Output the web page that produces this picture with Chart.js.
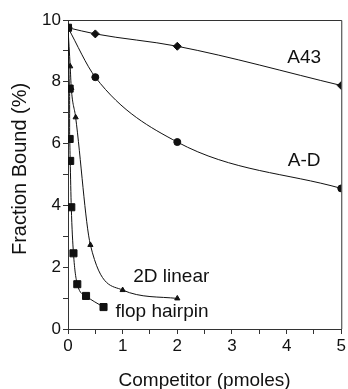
<!DOCTYPE html>
<html>
<head>
<meta charset="utf-8">
<script src="https://cdn.jsdelivr.net/npm/chart.js@4"></script>
<style>
  html, body { margin: 0; padding: 0; background: #fff; }
  #wrap { width: 348px; height: 389px; }
</style>
</head>
<body>
<div id="wrap"><canvas id="bindChart"></canvas></div>
<script>
// values (x = competitor pmoles, y = fraction bound %)
const a43X = [0, 0.5, 2, 5];
const a43Y = [9.75, 9.55, 9.15, 7.88];

const adX = [0, 0.5, 2, 5];
const adY = [9.75, 8.15, 6.05, 4.55];

const linearX = [0, 0.04, 0.06, 0.14, 0.41, 1.0, 2.0];
const linearY = [9.75, 8.5, 7.8, 6.85, 2.72, 1.26, 0.99];

const hairpinX = [0, 0.03, 0.03, 0.04, 0.06, 0.1, 0.17, 0.33, 0.65];
const hairpinY = [9.75, 7.78, 6.15, 5.44, 3.94, 2.45, 1.45, 1.07, 0.71];

const seriesLabels = ['A43', 'A-D', '2D linear', 'flop hairpin'];
// where each curve's name sits, in data units
const labelX = [4.32, 4.32, 1.89, 1.72];
const labelY = [8.78, 5.46, 1.69, 0.56];

const xTicks = [0, 1, 2, 3, 4, 5];
const yTicks = [0, 2, 4, 6, 8, 10];

function pts(xs, ys) {
    return xs.map((x, i) => ({ x: x, y: ys[i] }));
}

function series(label, xs, ys, shape, r) {
    return {
        label: label,
        data: pts(xs, ys),
        borderColor: '#111',
        backgroundColor: '#111',
        borderWidth: 1,
        pointStyle: shape,
        pointRadius: r,
        pointHoverRadius: r,
        cubicInterpolationMode: 'monotone',
        fill: false
    };
}

const labelPlugin = {
    id: 'curveLabels',
    afterDatasetsDraw(chart) {
        const ctx = chart.ctx;
        const xs = chart.scales.x, ys = chart.scales.y;
        ctx.save();
        ctx.font = '19px "Liberation Sans", Arial, sans-serif';
        ctx.fillStyle = '#111';
        ctx.textAlign = 'center';
        ctx.textBaseline = 'middle';
        seriesLabels.forEach((t, i) => {
            ctx.fillText(t, xs.getPixelForValue(labelX[i]), ys.getPixelForValue(labelY[i]));
        });
        // top and right frame lines
        const a = chart.chartArea;
        ctx.strokeStyle = '#333';
        ctx.lineWidth = 1;
        ctx.beginPath();
        ctx.moveTo(a.left, a.top + 0.5);
        ctx.lineTo(a.right + 0.5, a.top + 0.5);
        ctx.lineTo(a.right + 0.5, a.bottom);
        ctx.stroke();
        ctx.restore();
    }
};

const ctx = document.getElementById('bindChart').getContext('2d');
const bindChart = new Chart(ctx, {
    type: 'line',
    data: {
        datasets: [
            series('A43', a43X, a43Y, 'rectRot', 4),
            series('A-D', adX, adY, 'circle', 3.5),
            series('2D linear', linearX, linearY, 'triangle', 3),
            series('flop hairpin', hairpinX, hairpinY, 'rect', 5)
        ]
    },
    options: {
        responsive: true,
        maintainAspectRatio: false,
        animation: false,
        layout: { padding: { left: 0, right: 5, top: 20, bottom: 0 } },
        plugins: {
            legend: { display: false },
            tooltip: { enabled: false }
        },
        scales: {
            x: {
                type: 'linear',
                min: 0,
                max: 5,
                afterFit: function(scale) { scale.height = 60; },
                afterBuildTicks: function(scale) {
                    const t = [];
                    for (let v = 0; v <= 5; v += 0.5) t.push({ value: v });
                    scale.ticks = t;
                },
                ticks: {
                    autoSkip: false,
                    maxRotation: 0,
                    color: '#111',
                    font: { family: '"Liberation Sans", Arial, sans-serif', size: 17 },
                    padding: 2,
                    callback: function(v) { return xTicks.includes(v) ? String(v) : ''; }
                },
                grid: { drawOnChartArea: false, tickLength: 5, color: '#333' },
                border: { color: '#333', width: 1 },
                title: {
                    display: true,
                    text: 'Competitor (pmoles)',
                    color: '#111',
                    font: { family: '"Liberation Sans", Arial, sans-serif', size: 19 },
                    padding: { top: 0, bottom: -3 }
                }
            },
            y: {
                type: 'linear',
                min: 0,
                max: 10,
                afterFit: function(scale) { scale.width = 68; },
                afterBuildTicks: function(scale) {
                    const t = [];
                    for (let v = 0; v <= 10; v += 1) t.push({ value: v });
                    scale.ticks = t;
                },
                ticks: {
                    autoSkip: false,
                    color: '#111',
                    font: { family: '"Liberation Sans", Arial, sans-serif', size: 17 },
                    padding: 2,
                    callback: function(v) { return yTicks.includes(v) ? String(v) : ''; }
                },
                grid: { drawOnChartArea: false, tickLength: 5, color: '#333' },
                border: { color: '#333', width: 1 },
                title: {
                    display: true,
                    text: '  Fraction Bound (%)',
                    color: '#111',
                    font: { family: '"Liberation Sans", Arial, sans-serif', size: 20 },
                    padding: { top: 8, bottom: 0 }
                }
            }
        }
    },
    plugins: [labelPlugin]
});
</script>
</body>
</html>
